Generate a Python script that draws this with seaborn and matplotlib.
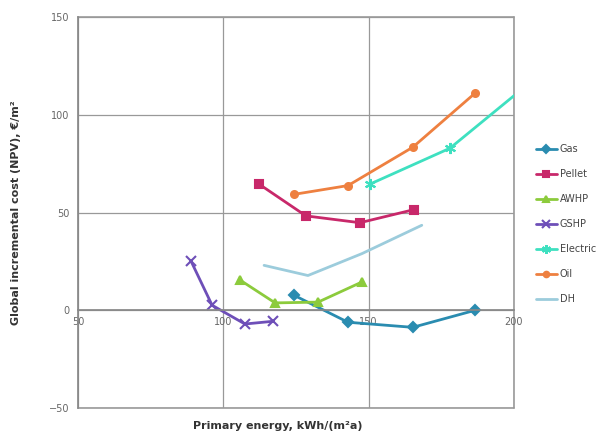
import matplotlib
matplotlib.use("Agg")
import matplotlib.pyplot as plt
import seaborn as sns
import pandas as pd

# ── DATA ──────────────────────────────────────────────────────────────────────
series_names = ["Gas", "Pellet", "AWHP", "GSHP", "Electric", "Oil", "DH"]

gas_x = [124.3, 142.9, 165.2, 186.6]
gas_y = [7.7, -6.1, -8.7, 0.0]

pellet_x = [112.3, 128.4, 147.0, 165.6]
pellet_y = [64.5, 48.3, 44.8, 51.5]

awhp_x = [105.7, 117.8, 132.6, 147.7]
awhp_y = [15.5, 3.8, 4.2, 14.5]

gshp_x = [88.9, 96.1, 107.4, 117.1]
gshp_y = [25.0, 2.6, -7.0, -5.6]

electric_x = [150.4, 178.0, 206.0]
electric_y = [64.5, 82.9, 117.0]

oil_x = [124.3, 142.9, 165.2, 186.6]
oil_y = [59.3, 63.8, 83.4, 111.0]

dh_x = [114.0, 129.1, 147.7, 168.3]
dh_y = [23.0, 17.8, 29.0, 43.5]

x_ticks = [50, 100, 150, 200]
y_ticks = [-50, 0, 50, 100, 150]
# ─────────────────────────────────────────────────────────────────────────────

xs = [gas_x, pellet_x, awhp_x, gshp_x, electric_x, oil_x, dh_x]
ys = [gas_y, pellet_y, awhp_y, gshp_y, electric_y, oil_y, dh_y]
colors = ["#2A8CB0", "#C8286A", "#8CCB3C", "#6E4FB8", "#3EE0C0", "#EE8040", "#9CCCDC"]
markers = ["D", "s", "^", "x", (6, 2, 0), "o", None]
msizes = [5, 6, 6, 7, 8, 5, 0]

sns.set_theme(style="white")
plt.rcParams["font.family"] = ["DejaVu Sans"]

fig = plt.figure(figsize=(6.11, 4.36), dpi=100)
ax = fig.add_axes([0.128, 0.064, 0.713, 0.897])

for name, x, y, c, m, ms in zip(series_names, xs, ys, colors, markers, msizes):
    df = pd.DataFrame({"x": x, "y": y})
    sns.lineplot(data=df, x="x", y="y", sort=False, ax=ax, color=c, marker=m,
                 markersize=ms, markeredgecolor=c, markeredgewidth=1.5,
                 linewidth=2, label=name, clip_on=True)

ax.set_xlim(50, 200)
ax.set_ylim(-50, 150)
ax.set_xticks(x_ticks)
ax.set_yticks(y_ticks)
ax.grid(True, color="#999999", linewidth=0.9)
ax.set_axisbelow(True)
# edge gridlines (Excel draws them on the plot-area border)
ax.axhline(-50, color="#999999", linewidth=1.2, clip_on=False, zorder=0)
ax.axhline(150, color="#999999", linewidth=1.2, clip_on=False, zorder=0)
ax.axvline(200, color="#999999", linewidth=1.2, clip_on=False, zorder=0)

ax.spines["bottom"].set_position(("data", 0))
for s in ["top", "right"]:
    ax.spines[s].set_visible(False)
ax.spines["left"].set_color("#888888")
ax.spines["bottom"].set_color("#888888")
ax.tick_params(axis="both", labelsize=7, colors="#666666", length=3, width=0.8)
ax.tick_params(axis="x", direction="inout")

ax.set_xlabel("")
ax.set_ylabel("Global incremental cost (NPV), €/m²", fontsize=8, fontweight="bold",
              color="#333333", labelpad=20)
fig.text(0.455, 0.015, "Primary energy, kWh/(m²a)", fontsize=8, fontweight="bold",
         color="#333333", ha="center")

ax.legend(loc="center left", bbox_to_anchor=(1.03, 0.47), frameon=False,
          fontsize=7, labelspacing=1.55, handlelength=2.2, handletextpad=0.3,
          markerscale=0.8)
for t in ax.get_legend().get_texts():
    t.set_color("#444444")

fig.savefig("out.png", dpi=100)
